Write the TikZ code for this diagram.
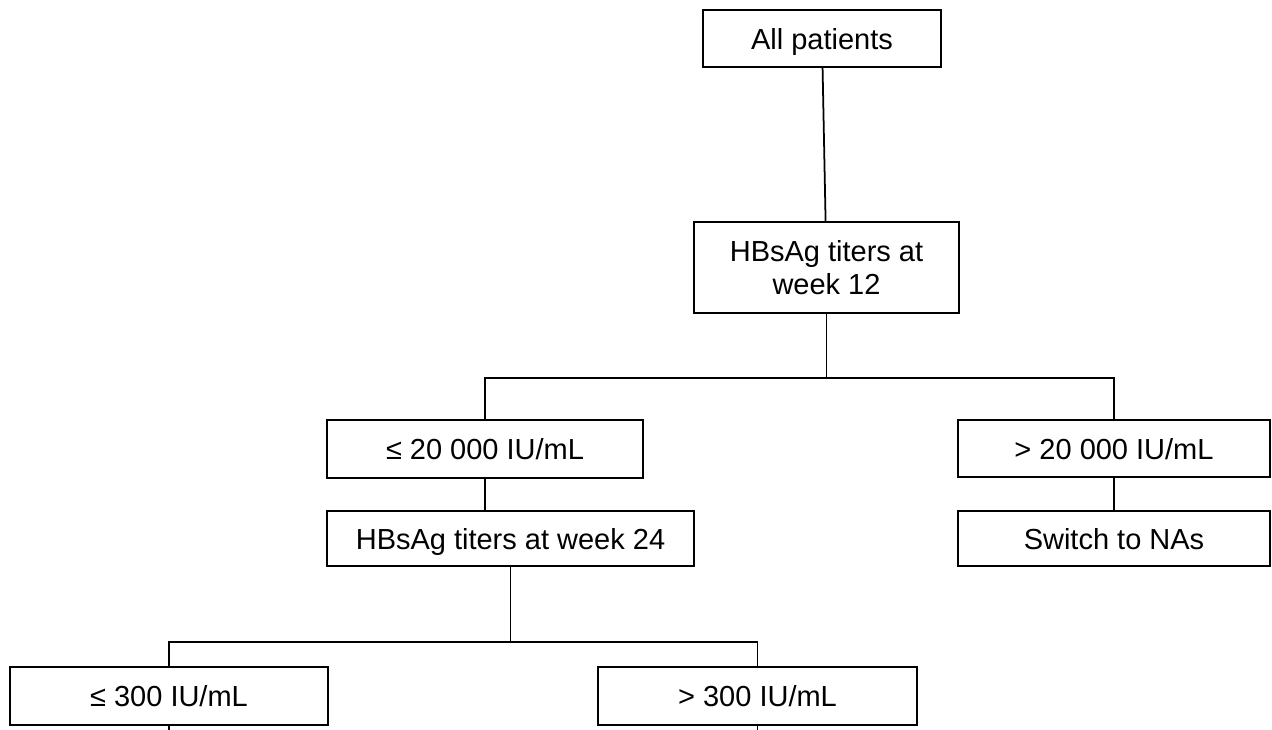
\documentclass[tikz,border=0pt]{standalone}
\usepackage{fontspec}
\setmainfont{Liberation Sans}
\begin{document}
\begin{tikzpicture}[x=0.02cm,y=-0.02cm,
  box/.style={draw, line width=1pt, inner sep=0pt, text depth=0pt, align=center, font=\fontsize{16.5}{19}\selectfont},
  link/.style={line width=1pt}]
\useasboundingbox (0,0) rectangle (1272,730);
\node[box, minimum width=238*0.02cm, minimum height=57*0.02cm] (all) at (822,38.5) {All patients};
\node[box, minimum width=265*0.02cm, minimum height=91*0.02cm] (w12) at (826.5,267.5) {HBsAg titers at\\week 12};
\node[box, minimum width=316*0.02cm, minimum height=58*0.02cm] (le20) at (485,449) {≤ 20 000 IU/mL};
\node[box, minimum width=312*0.02cm, minimum height=57*0.02cm] (gt20) at (1114,448.5) {> 20 000 IU/mL};
\node[box, minimum width=367*0.02cm, minimum height=55*0.02cm] (w24) at (510.5,538.5) {HBsAg titers at week 24};
\node[box, minimum width=312*0.02cm, minimum height=55*0.02cm] (nas) at (1114,538.5) {Switch to NAs};
\node[box, minimum width=318*0.02cm, minimum height=58*0.02cm] (le300) at (169,696) {≤ 300 IU/mL};
\node[box, minimum width=319*0.02cm, minimum height=58*0.02cm] (gt300) at (757.5,696) {> 300 IU/mL};
\coordinate (split12) at (826.5,378);
\coordinate (split24) at (510.5,642);
\coordinate (le300end) at (169,730);
\coordinate (gt300end) at (757.5,730);
\draw[link] (all) -- (w12);
\draw[link] (w12) -- (split12);
\draw[link] (le20.north) |- (split12) -| (gt20.north);
\draw[link] (le20) -- (le20 |- w24.north);
\draw[link] (gt20) -- (nas);
\draw[link] (w24) -- (split24);
\draw[link] (le300.north) |- (split24) -| (gt300.north);
\draw[link] (le300) -- (le300end);
\draw[link] (gt300) -- (gt300end);
\end{tikzpicture}
\end{document}
